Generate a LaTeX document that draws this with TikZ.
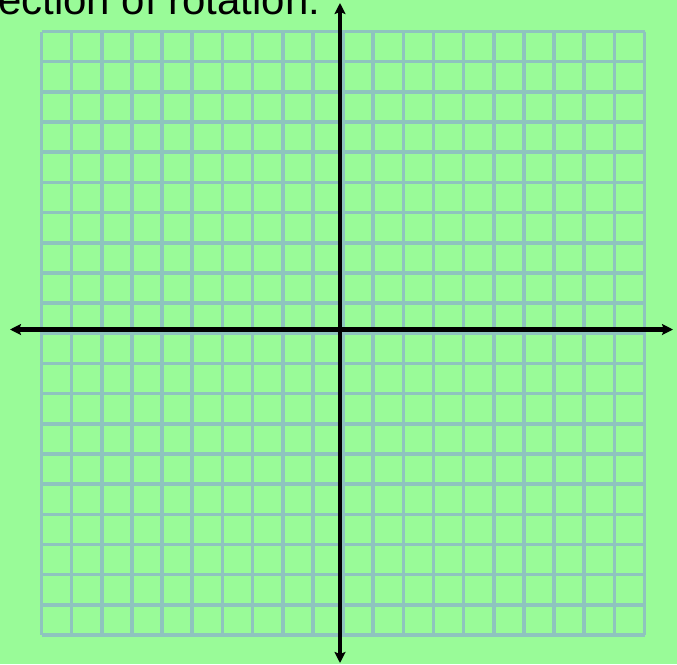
\documentclass[tikz,border=0pt]{standalone}
\usepackage{fontspec}
\setmainfont{Liberation Sans}
\usetikzlibrary{arrows.meta}
\definecolor{bggreen}{RGB}{153,251,152}
\definecolor{gridblue}{RGB}{142,196,190}
\begin{document}
\begin{tikzpicture}[x=1pt,y=-1pt,
  gridline/.style={draw=gridblue,line width=3.6pt},
  axisline/.style={line width=4.5pt,-{Stealth[length=11pt,width=11pt,inset=2pt]}}]
\useasboundingbox (0,0) rectangle (677,664);
\clip (0,0) rectangle (677,664);
\fill[bggreen] (0,0) rectangle (677,664);
\node[anchor=base west,inner sep=0pt,font=\fontsize{42}{42}\selectfont] (title) at (-2,14) {ection of rotation:};
\foreach \i in {0,...,20} {
  \draw[gridline] ({41.5+30.15*\i},31.5) -- ({41.5+30.15*\i},635);
  \draw[gridline] (41.5,{31.5+30.175*\i}) -- (644.5,{31.5+30.175*\i});
}
\coordinate (center) at (340,329.5);
\coordinate (xl) at (10,329.5);
\coordinate (xr) at (673,329.5);
\coordinate (yt) at (340,3);
\coordinate (yb) at (340,663);
\draw[axisline] (center) -- (xl);
\draw[axisline] (center) -- (xr);
\draw[axisline] (center) -- (yt);
\draw[axisline] (center) -- (yb);
\end{tikzpicture}
\end{document}
